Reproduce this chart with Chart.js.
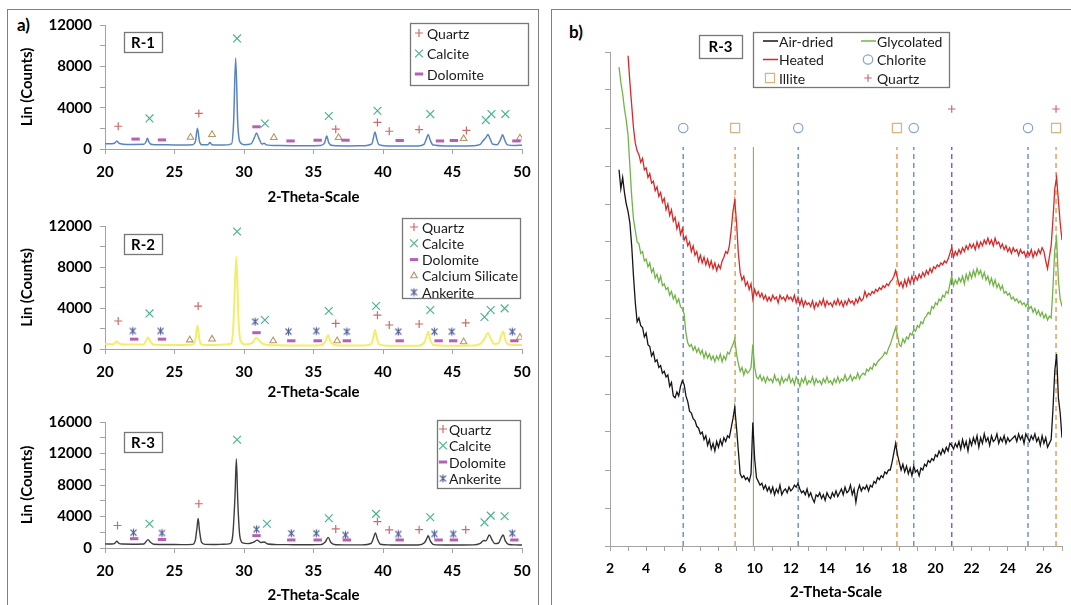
<!DOCTYPE html>
<html>
<head>
<meta charset="utf-8">
<script src="https://cdn.jsdelivr.net/npm/chart.js@4.4.1/dist/chart.umd.min.js"></script>
<style>
  html, body { margin: 0; padding: 0; background: #fff; }
  body { width: 1071px; height: 605px; position: relative; overflow: hidden; font-family: Lato, "DejaVu Sans", sans-serif; }
  .frame { position: absolute; border: 1.5px solid #808080; box-sizing: border-box; }
  .panel-tag { position: absolute; font-weight: bold; font-size: 17px; color: #000; }
  canvas { position: absolute; }
</style>
</head>
<body>
<div class="frame" style="left:7px;top:9px;width:532px;height:610px"></div>
<div class="frame" style="left:551px;top:9px;width:530px;height:610px"></div>
<div class="panel-tag" style="left:17px;top:14px">a)</div>
<div class="panel-tag" style="left:569px;top:21px">b)</div>
<canvas id="r1" width="545" height="208" style="left:0;top:0"></canvas>
<canvas id="r2" width="545" height="205" style="left:0;top:200px"></canvas>
<canvas id="r3" width="545" height="208" style="left:0;top:397px"></canvas>
<canvas id="clay" width="520" height="605" style="left:551px;top:0"></canvas>
<script>
/* ---------- a) bulk XRD patterns: [2-theta, counts] ---------- */
const r1Pattern = [
  [20.0, 520], [20.5, 500], [20.7, 560], [20.85, 780], [21.0, 560], [21.3, 470], [22.0, 440], [22.8, 450],
  [22.95, 700], [23.05, 1050], [23.15, 700], [23.4, 430], [24.5, 400], [25.5, 380], [26.3, 420], [26.5, 700],
  [26.65, 2000], [26.8, 700], [27.0, 400], [27.4, 420], [27.55, 620], [27.7, 420], [28.5, 380], [29.1, 500],
  [29.25, 2500], [29.4, 8800], [29.55, 2500], [29.7, 700], [30.0, 420], [30.5, 500], [30.75, 1100], [30.9, 1550],
  [31.05, 1100], [31.3, 480], [31.45, 560], [31.6, 400], [32.5, 330], [33.5, 320], [34.5, 320], [35.5, 340],
  [35.8, 600], [35.95, 1250], [36.1, 600], [36.4, 330], [37.5, 300], [38.5, 310], [39.2, 500], [39.3, 1000],
  [39.42, 1650], [39.55, 1000], [39.7, 420], [40.3, 300], [41.5, 290], [42.5, 300], [42.95, 450], [43.1, 900],
  [43.25, 1400], [43.4, 850], [43.6, 380], [44.5, 300], [45.5, 300], [46.5, 320], [47.0, 450], [47.2, 800],
  [47.4, 1100], [47.55, 1400], [47.7, 1000], [47.9, 450], [48.2, 420], [48.45, 900], [48.6, 1380], [48.75, 900],
  [48.95, 400], [49.5, 350], [50.0, 360]
];
const r2Pattern = [
  [20.0, 480], [20.5, 470], [20.7, 540], [20.85, 760], [21.0, 540], [21.3, 450], [22.0, 430], [22.8, 460],
  [22.95, 800], [23.1, 1150], [23.25, 750], [23.5, 430], [24.5, 400], [25.5, 390], [26.3, 430], [26.5, 900],
  [26.65, 2300], [26.8, 850], [27.0, 420], [28.0, 400], [29.0, 480], [29.2, 1500], [29.3, 4500], [29.45, 9000],
  [29.6, 3000], [29.75, 800], [30.1, 450], [30.6, 600], [30.9, 1100], [31.2, 650], [31.6, 420], [32.5, 360],
  [33.5, 350], [34.5, 340], [35.5, 360], [35.85, 700], [36.05, 1350], [36.25, 650], [36.6, 360], [37.5, 330],
  [38.5, 330], [39.15, 500], [39.3, 1100], [39.42, 1850], [39.55, 1100], [39.75, 430], [40.5, 320], [41.5, 310],
  [42.5, 320], [42.95, 600], [43.15, 1300], [43.25, 1700], [43.4, 900], [43.65, 380], [44.5, 320], [45.5, 320],
  [46.5, 330], [47.0, 500], [47.3, 1000], [47.55, 1550], [47.75, 1000], [48.0, 500], [48.3, 550], [48.5, 1300],
  [48.65, 1700], [48.8, 900], [49.05, 430], [49.5, 380], [50.0, 380]
];
const r3Pattern = [
  [20.0, 520], [20.5, 510], [20.7, 600], [20.85, 850], [21.0, 600], [21.3, 500], [22.0, 480], [22.8, 500],
  [22.95, 800], [23.1, 1060], [23.25, 760], [23.5, 480], [24.5, 450], [25.5, 430], [26.3, 460], [26.5, 1000],
  [26.62, 2600], [26.7, 3750], [26.8, 2200], [26.95, 700], [27.2, 460], [28.0, 440], [28.5, 480], [29.0, 560],
  [29.2, 1800], [29.35, 6500], [29.45, 11300], [29.55, 6000], [29.7, 1500], [29.9, 650], [30.3, 560], [30.7, 750],
  [30.95, 1000], [31.2, 700], [31.45, 760], [31.7, 500], [32.5, 430], [33.5, 420], [34.5, 410], [35.5, 430],
  [35.85, 750], [36.05, 1350], [36.25, 700], [36.6, 420], [37.5, 400], [38.5, 400], [39.15, 600], [39.3, 1200],
  [39.45, 1900], [39.6, 1150], [39.8, 480], [40.5, 390], [41.5, 380], [42.5, 390], [43.0, 700], [43.15, 1200],
  [43.25, 1550], [43.4, 900], [43.65, 430], [44.5, 390], [45.5, 380], [46.5, 400], [47.0, 600], [47.25, 950],
  [47.4, 900], [47.65, 1650], [47.85, 1000], [48.05, 550], [48.3, 600], [48.5, 1300], [48.65, 1650], [48.8, 900],
  [49.05, 450], [49.5, 400], [50.0, 380]
];

/* peak markers: [2-theta, counts] */
const r1Quartz = [[20.95, 2200], [26.75, 3440], [36.6, 1920], [39.6, 2570], [40.45, 1720], [42.6, 1880], [46.0, 1800]];
const r1Calcite = [[23.2, 2960], [29.5, 10700], [31.5, 2470], [36.1, 3190], [39.6, 3700], [43.4, 3380], [47.4, 2800], [47.8, 3380], [48.8, 3380]];
const r1Dolomite = [[22.2, 960], [24.1, 880], [30.9, 2150], [33.35, 780], [35.3, 850], [37.3, 850], [41.2, 820], [44.1, 780], [45.1, 820], [49.6, 780]];
const r1CaSilicate = [[26.15, 1130], [27.7, 1400], [32.15, 1100], [36.8, 1100], [45.8, 1000], [49.85, 1060]];

const r2Quartz = [[20.95, 2730], [26.7, 4190], [36.6, 2500], [39.6, 3300], [40.45, 2340], [42.6, 2440], [45.95, 2540]];
const r2Calcite = [[23.2, 3470], [29.5, 11460], [31.5, 2830], [36.1, 3710], [39.5, 4200], [43.4, 3800], [47.3, 3120], [47.75, 3800], [48.75, 3960]];
const r2Dolomite = [[22.1, 960], [24.1, 960], [30.9, 1590], [33.4, 800], [35.3, 800], [37.4, 800], [41.2, 800], [44.0, 800], [45.05, 800], [49.45, 800]];
const r2CaSilicate = [[26.1, 880], [27.7, 960], [32.1, 800], [36.7, 800], [45.8, 700], [49.85, 1140]];
const r2Ankerite = [[22.0, 1760], [24.0, 1760], [30.8, 2670], [33.2, 1690], [35.2, 1760], [37.4, 1690], [41.1, 1690], [43.7, 1690], [44.95, 1690], [49.3, 1690]];

const r3Quartz = [[20.9, 2860], [26.75, 5620], [36.6, 2420], [39.6, 3350], [40.45, 2290], [42.6, 2330], [45.95, 2330]];
const r3Calcite = [[23.2, 3080], [29.5, 13740], [31.65, 3080], [36.1, 3770], [39.5, 4330], [43.4, 3900], [47.3, 3260], [47.75, 4110], [48.75, 4030]];
const r3Dolomite = [[22.1, 1180], [24.1, 1080], [30.9, 1570], [33.4, 1020], [35.3, 1020], [37.4, 1020], [41.2, 1020], [44.0, 1020], [45.1, 1020], [49.45, 1020]];
const r3Ankerite = [[22.05, 1950], [24.1, 1900], [30.9, 2380], [33.4, 1870], [35.2, 1870], [37.3, 1660], [41.1, 1780], [43.7, 1780], [45.05, 1780], [49.3, 1870]];

/* ---------- b) clay fraction of R-3, intensity on a 0-13 grid, 2.5 to 27.0 deg in 0.1 deg steps ---------- */
const clayStartAngle = 2.5;
const clayAngleStep = 0.1;
const airDried = [
  9.9, 9.4, 9.7, 9.3, 9.0,
  8.8, 8.5, 7.9, 7.1, 6.4, 5.9, 6.0, 5.8, 5.75, 5.5,
  5.6, 5.3, 5.25, 5.0, 5.1, 4.85, 4.9, 4.7, 4.75, 4.55,
  4.6, 4.45, 4.5, 4.2, 4.3, 3.95, 3.9, 4.05, 3.95, 4.2,
  4.35, 4.25, 3.95, 3.8, 3.55, 3.5, 3.35, 3.3, 3.15, 3.1,
  2.95, 3.0, 2.8, 2.9, 2.65, 2.8, 2.55, 2.7, 2.5, 2.75,
  2.6, 2.8, 2.65, 2.85, 2.75, 2.9, 2.85, 3.1, 3.35, 3.65,
  3.1, 2.5, 1.9, 1.8, 1.85, 1.75, 1.8, 1.7, 1.9, 3.25,
  2.3, 1.8, 1.7, 1.6, 1.65, 1.5, 1.6, 1.45, 1.55, 1.4,
  1.55, 1.35, 1.5, 1.4, 1.6, 1.35, 1.45, 1.5, 1.4, 1.55,
  1.45, 1.5, 1.6, 1.55, 1.65, 1.5, 1.4, 1.45, 1.35, 1.5,
  1.3, 1.4, 1.25, 1.15, 1.35, 1.3, 1.4, 1.25, 1.35, 1.2,
  1.4, 1.3, 1.25, 1.4, 1.3, 1.45, 1.3, 1.4, 1.5, 1.35,
  1.55, 1.4, 1.45, 1.6, 1.35, 1.5, 1.15, 1.45, 1.6, 1.45,
  1.55, 1.5, 1.6, 1.45, 1.6, 1.55, 1.7, 1.65, 1.8, 1.75,
  1.85, 1.8, 1.95, 1.9, 2.0, 2.0, 2.2, 2.45, 2.7, 2.4,
  2.2, 2.0, 2.15, 1.95, 2.1, 1.9, 2.05, 1.85, 2.1, 1.95,
  2.0, 1.85, 2.05, 2.0, 2.15, 2.1, 2.25, 2.2, 2.3, 2.25,
  2.4, 2.35, 2.5, 2.4, 2.55, 2.45, 2.6, 2.5, 2.7, 2.65,
  2.55, 2.7, 2.6, 2.75, 2.55, 2.8, 2.6, 2.75, 2.5, 2.8,
  2.65, 2.85, 2.7, 2.9, 2.6, 2.85, 2.7, 2.95, 2.75, 2.85,
  2.65, 2.9, 2.75, 2.8, 2.95, 2.7, 2.85, 2.75, 2.9, 2.7,
  2.85, 2.75, 2.8, 2.85, 2.9, 2.75, 2.95, 2.8, 2.9, 2.7,
  2.95, 2.85, 2.75, 2.9, 2.8, 2.95, 2.75, 2.85, 2.65, 2.9,
  2.7, 2.85, 2.6, 2.7, 2.8, 3.6, 4.6, 5.05, 3.9, 3.5,
  2.85
];
const glycolated = [
  12.6, 12.2, 11.9, 11.5, 11.2,
  10.8, 10.0, 9.2, 8.6, 8.3, 8.0, 7.95, 7.7, 7.75, 7.5,
  7.55, 7.35, 7.45, 7.2, 7.3, 7.05, 7.15, 6.95, 7.1, 6.85,
  6.9, 6.75, 6.8, 6.6, 6.7, 6.5, 6.6, 6.4, 6.5, 6.3,
  6.25, 6.1, 5.6, 5.35, 5.25, 5.3, 5.15, 5.25, 5.1, 5.2,
  5.05, 5.15, 4.95, 5.1, 4.95, 5.05, 4.9, 5.0, 4.85, 5.0,
  4.9, 5.05, 4.85, 5.0, 4.9, 5.1, 5.05, 5.2, 5.3, 5.45,
  5.05, 4.8, 4.6, 4.7, 4.5, 4.65, 4.55, 4.6, 4.7, 5.3,
  4.7, 4.45, 4.4, 4.5, 4.35, 4.45, 4.3, 4.45, 4.35, 4.4,
  4.3, 4.5, 4.35, 4.4, 4.25, 4.45, 4.3, 4.4, 4.35, 4.5,
  4.3, 4.4, 4.25, 4.45, 4.35, 4.2, 4.4, 4.3, 4.45, 4.25,
  4.35, 4.3, 4.45, 4.25, 4.4, 4.3, 4.35, 4.25, 4.4, 4.3,
  4.45, 4.3, 4.35, 4.25, 4.4, 4.3, 4.45, 4.3, 4.4, 4.35,
  4.5, 4.35, 4.4, 4.5, 4.35, 4.45, 4.4, 4.55, 4.4, 4.5,
  4.55, 4.5, 4.65, 4.6, 4.7, 4.65, 4.8, 4.75, 4.85, 4.9,
  4.95, 5.0, 5.1, 5.05, 5.2, 5.3, 5.45, 5.6, 5.75, 5.55,
  5.3, 5.25, 5.45, 5.35, 5.5, 5.45, 5.6, 5.55, 5.7, 5.65,
  5.8, 5.75, 5.9, 5.85, 6.0, 6.05, 6.15, 6.1, 6.3, 6.25,
  6.4, 6.35, 6.5, 6.45, 6.6, 6.55, 6.7, 6.65, 6.9, 7.1,
  6.85, 7.0, 6.9, 7.05, 6.95, 7.1, 6.9, 7.15, 7.0, 7.2,
  7.05, 7.25, 7.1, 7.3, 7.15, 7.25, 7.05, 7.2, 7.0, 7.1,
  6.9, 7.05, 6.85, 7.0, 6.8, 6.9, 6.75, 6.85, 6.65, 6.7,
  6.6, 6.65, 6.5, 6.55, 6.45, 6.5, 6.4, 6.45, 6.35, 6.4,
  6.3, 6.4, 6.25, 6.3, 6.15, 6.25, 6.1, 6.2, 6.05, 6.15,
  6.0, 6.1, 5.95, 6.05, 6.0, 6.8, 7.8, 8.1, 7.0, 6.5,
  6.3
];
const heated = [
  null, null, null, null, null,
  12.9, 12.2, 11.6, 11.0, 10.6, 10.4, 10.3, 10.1, 10.2, 9.9,
  9.95, 9.7, 9.8, 9.55, 9.6, 9.35, 9.45, 9.2, 9.3, 9.05,
  9.15, 8.85, 9.0, 8.7, 8.85, 8.55, 8.65, 8.35, 8.5, 8.2,
  8.35, 8.05, 8.15, 7.9, 8.0, 7.75, 7.9, 7.65, 7.75, 7.5,
  7.65, 7.45, 7.6, 7.4, 7.55, 7.35, 7.5, 7.3, 7.45, 7.25,
  7.4, 7.3, 7.5, 7.6, 7.75, 7.7, 7.9, 8.3, 8.8, 9.1,
  8.5, 7.7, 7.2, 7.0, 7.1, 6.85, 6.95, 6.75, 6.9, 6.5,
  6.75, 6.6, 6.7, 6.55, 6.65, 6.5, 6.6, 6.45, 6.55, 6.45,
  6.6, 6.5, 6.55, 6.4, 6.6, 6.5, 6.55, 6.45, 6.6, 6.5,
  6.55, 6.45, 6.6, 6.4, 6.55, 6.35, 6.5, 6.3, 6.45, 6.35,
  6.4, 6.3, 6.45, 6.25, 6.4, 6.3, 6.45, 6.35, 6.5, 6.3,
  6.45, 6.35, 6.4, 6.3, 6.45, 6.35, 6.5, 6.35, 6.45, 6.3,
  6.45, 6.35, 6.5, 6.4, 6.45, 6.35, 6.5, 6.4, 6.55, 6.45,
  6.5, 6.7, 6.55, 6.65, 6.6, 6.7, 6.65, 6.75, 6.7, 6.8,
  6.75, 6.85, 6.8, 6.9, 6.85, 6.95, 7.0, 7.1, 7.25, 7.05,
  6.85, 6.95, 6.8, 7.0, 6.85, 7.05, 6.9, 7.1, 6.95, 7.1,
  7.0, 7.15, 7.05, 7.2, 7.1, 7.25, 7.15, 7.3, 7.2, 7.35,
  7.3, 7.4, 7.35, 7.45, 7.4, 7.5, 7.45, 7.55, 7.7, 7.85,
  7.6, 7.75, 7.65, 7.8, 7.7, 7.85, 7.75, 7.9, 7.8, 7.95,
  7.85, 7.95, 7.8, 8.0, 7.85, 8.0, 7.9, 8.05, 7.95, 8.1,
  7.95, 8.05, 7.9, 8.1, 7.95, 8.0, 7.85, 7.95, 7.8, 7.9,
  7.75, 7.85, 7.7, 7.85, 7.75, 7.8, 7.65, 7.8, 7.7, 7.75,
  7.6, 7.75, 7.65, 7.8, 7.6, 7.75, 7.65, 7.8, 7.7, 7.85,
  7.75, 7.5, 7.3, 7.6, 7.9, 8.6, 9.4, 9.7, 9.1, 8.5,
  8.05
];

/* reflection positions (2-theta) and marker heights on the 0-13 grid */
const chloriteAngles = [6.05, 12.41, 18.8, 25.12];
const illiteAngles = [8.92, 17.87, 26.67];
const quartzAngles = [20.9, 26.67];
const quartzGuides = [20.9];
const glycolShift = [9.93];
const markerLevel = 11;
const quartzLevel = 11.5;
const guideTop = 10.5;

/* ---------- styling ---------- */
Chart.defaults.font.family = 'Lato, "DejaVu Sans", sans-serif';
Chart.defaults.color = '#000';
const axisGrey = '#a3a3a3';

function asterisk(color) {
  const c = document.createElement('canvas');
  c.width = 11; c.height = 11;
  const g = c.getContext('2d');
  g.strokeStyle = color;
  g.lineWidth = 1.1;
  g.beginPath();
  g.moveTo(2.5, 2.5); g.lineTo(8.5, 8.5);
  g.moveTo(8.5, 2.5); g.lineTo(2.5, 8.5);
  g.moveTo(5.5, 1.5); g.lineTo(5.5, 9.5);
  g.stroke();
  return c;
}

const mineralStyle = {
  'Quartz':           { pointStyle: 'cross',    color: '#cd6a6a', radius: 4,   width: 1.2 },
  'Calcite':          { pointStyle: 'crossRot', color: '#4cb48f', radius: 5.5, width: 1.2 },
  'Dolomite':         { pointStyle: 'line',     color: '#b560b5', radius: 4.2, width: 3 },
  'Calcium Silicate': { pointStyle: 'triangle', color: '#b8966a', radius: 3.8, width: 1.1 },
  'Ankerite':         { pointStyle: asterisk('#52629a'), color: '#52629a', radius: 4, width: 1.1 }
};

const pts = pairs => pairs.map(([x, y]) => ({ x, y }));

function markerSet(label, pairs) {
  const s = mineralStyle[label];
  return {
    label, data: pts(pairs), showLine: false,
    pointStyle: s.pointStyle, pointRadius: s.radius, pointHoverRadius: s.radius,
    pointBorderWidth: s.width, pointBorderColor: s.color, pointBackgroundColor: 'rgba(0,0,0,0)'
  };
}

// sample tag box and the boxed legend, drawn on the canvas
const notesPlugin = {
  id: 'notes',
  afterDraw(chart, args, opts) {
    const ctx = chart.ctx;
    const t = opts.tag, L = opts.legend;
    ctx.save();
    ctx.strokeStyle = '#777';
    ctx.lineWidth = 1.3;
    ctx.strokeRect(t.x + 0.5, t.y + 0.5, t.w, t.h);
    ctx.fillStyle = '#000';
    ctx.font = 'bold 15px Lato';
    ctx.textAlign = 'center';
    ctx.textBaseline = 'middle';
    ctx.fillText(t.text, t.x + t.w / 2, t.y + t.h / 2 + 1);

    ctx.strokeStyle = '#777';
    ctx.lineWidth = 1.3;
    ctx.strokeRect(L.x + 0.5, L.y + 0.5, L.w, L.h);
    ctx.font = '14px Lato';
    ctx.textAlign = 'left';
    L.labels.forEach((name, i) => {
      const ds = chart.data.datasets.find(d => d.label === name);
      const col = i % L.cols, row = Math.floor(i / L.cols);
      const y = L.y + L.first + row * L.step;
      const sx = L.x + L.symX[col];
      if (ds.showLine) {
        ctx.strokeStyle = ds.borderColor;
        ctx.lineWidth = 1.5;
        ctx.beginPath();
        ctx.moveTo(sx - 7, y);
        ctx.lineTo(sx + 8, y);
        ctx.stroke();
      } else {
        ctx.strokeStyle = ds.pointBorderColor;
        ctx.fillStyle = 'rgba(0,0,0,0)';
        ctx.lineWidth = ds.pointBorderWidth;
        Chart.helpers.drawPoint(ctx, { pointStyle: ds.pointStyle, radius: ds.pointRadius, borderWidth: ds.pointBorderWidth, rotation: 0 }, sx, y);
      }
      ctx.fillStyle = '#1a1a1a';
      ctx.fillText(name, L.x + L.textX[col], y + 1);
    });
    ctx.restore();
  }
};

const boldTick = { size: 15, weight: 'bold' };

function xrdChart(id, o) {
  return new Chart(document.getElementById(id), {
    type: 'scatter',
    data: {
      datasets: [
        { label: 'pattern', data: pts(o.pattern), showLine: true, borderColor: o.color, borderWidth: o.width,
          pointRadius: 0, cubicInterpolationMode: 'monotone' },
        ...o.markers
      ]
    },
    options: {
      responsive: false, animation: false, events: [],
      layout: { padding: { left: 14, right: 23, top: o.top, bottom: 0 } },
      plugins: { legend: { display: false }, tooltip: { enabled: false }, notes: o.notes },
      scales: {
        x: {
          type: 'linear', min: 20, max: 50,
          border: { color: axisGrey },
          grid: { drawOnChartArea: false, color: axisGrey, tickLength: 5 },
          ticks: { stepSize: 5, padding: 9, font: boldTick, maxRotation: 0, autoSkip: false },
          title: { display: true, text: '2-Theta-Scale', font: boldTick, padding: { top: 0, bottom: o.titlePad } },
          afterFit: s => { s.height = o.xHeight; }
        },
        y: {
          min: 0, max: o.yMax,
          border: { color: axisGrey },
          grid: { drawOnChartArea: false, color: axisGrey, tickLength: 5 },
          ticks: { stepSize: 2000, padding: 8, font: boldTick, autoSkip: false,
                   callback: v => (v % 4000 === 0 ? String(v) : '') },
          title: { display: true, text: 'Lin (Counts)', font: boldTick, padding: { top: 4, bottom: 0 } },
          afterFit: s => { s.width = 91; }
        }
      }
    },
    plugins: [notesPlugin]
  });
}

xrdChart('r1', {
  pattern: r1Pattern, color: '#5a84bf', width: 1.5, yMax: 12000, top: 25, xHeight: 59, titlePad: 2,
  markers: [
    markerSet('Quartz', r1Quartz), markerSet('Calcite', r1Calcite),
    markerSet('Dolomite', r1Dolomite), markerSet('Calcium Silicate', r1CaSilicate)
  ],
  notes: {
    tag: { text: 'R-1', x: 124, y: 32, w: 38, h: 20 },
    legend: { x: 410, y: 23, w: 118, h: 62, first: 10, step: 20.5, cols: 1, symX: [9], textX: [17],
              labels: ['Quartz', 'Calcite', 'Dolomite'] }
  }
});

xrdChart('r2', {
  pattern: r2Pattern, color: '#f2ee6a', width: 2, yMax: 12000, top: 26, xHeight: 56, titlePad: 4,
  markers: [
    markerSet('Quartz', r2Quartz), markerSet('Calcite', r2Calcite), markerSet('Dolomite', r2Dolomite),
    markerSet('Calcium Silicate', r2CaSilicate), markerSet('Ankerite', r2Ankerite)
  ],
  notes: {
    tag: { text: 'R-2', x: 124, y: 34, w: 38, h: 20 },
    legend: { x: 402, y: 18, w: 118, h: 80, first: 9, step: 16.3, cols: 1, symX: [12], textX: [20],
              labels: ['Quartz', 'Calcite', 'Dolomite', 'Calcium Silicate', 'Ankerite'] }
  }
});

xrdChart('r3', {
  pattern: r3Pattern, color: '#3d3d3d', width: 1.4, yMax: 16000, top: 25, xHeight: 57, titlePad: 1,
  markers: [
    markerSet('Quartz', r3Quartz), markerSet('Calcite', r3Calcite),
    markerSet('Dolomite', r3Dolomite), markerSet('Ankerite', r3Ankerite)
  ],
  notes: {
    tag: { text: 'R-3', x: 124, y: 35, w: 38, h: 20 },
    legend: { x: 437, y: 23, w: 83, h: 68, first: 9, step: 16.5, cols: 1, symX: [6], textX: [12],
              labels: ['Quartz', 'Calcite', 'Dolomite', 'Ankerite'] }
  }
});

/* ---------- b) clay chart ---------- */
const clayPts = arr => arr.map((v, i) => ({ x: +(clayStartAngle + i * clayAngleStep).toFixed(2), y: v }));
const curve = (label, arr, color) => ({
  label, data: clayPts(arr), showLine: true, borderColor: color, borderWidth: 1.3, pointRadius: 0, spanGaps: false
});
const guide = (angle, color, dashed) => ({
  label: 'guide', data: [{ x: angle, y: 0 }, { x: angle, y: guideTop }], showLine: true,
  borderColor: color, borderWidth: dashed ? 1.5 : 1, borderDash: dashed ? [5, 4] : [], pointRadius: 0
});
const clayMarker = (label, angles, level, style, color, radius) => ({
  label, data: angles.map(a => ({ x: a, y: level })), showLine: false,
  pointStyle: style, pointRadius: radius, pointHoverRadius: radius, pointBorderWidth: 1.2,
  pointBorderColor: color, pointBackgroundColor: 'rgba(0,0,0,0)'
});

new Chart(document.getElementById('clay'), {
  type: 'scatter',
  data: {
    datasets: [
      curve('Air-dried', airDried, '#151515'),
      curve('Heated', heated, '#d62a2a'),
      curve('Glycolated', glycolated, '#72b447'),
      clayMarker('Chlorite', chloriteAngles, markerLevel, 'circle', '#86a2d4', 4.7),
      clayMarker('Illite', illiteAngles, markerLevel, 'rect', '#d9b27e', 6.4),
      clayMarker('Quartz', quartzAngles, quartzLevel, 'cross', '#cc6677', 3.8),
      ...chloriteAngles.map(a => guide(a, '#6f93cf', true)),
      ...illiteAngles.map(a => guide(a, '#e0a35a', true)),
      ...quartzGuides.map(a => guide(a, '#8f5cb5', true)),
      ...glycolShift.map(a => guide(a, '#70ad47', false))
    ]
  },
  options: {
    responsive: false, animation: false, events: [],
    layout: { padding: { left: 49, right: 6, top: 52, bottom: 0 } },
    plugins: {
      legend: { display: false }, tooltip: { enabled: false },
      notes: {
        tag: { text: 'R-3', x: 148, y: 35, w: 43, h: 23 },
        legend: { x: 202, y: 32, w: 196, h: 55, first: 9, step: 18.5, cols: 2, symX: [17, 115], textX: [26, 124],
                  labels: ['Air-dried', 'Glycolated', 'Heated', 'Chlorite', 'Illite', 'Quartz'] }
      }
    },
    scales: {
      x: {
        type: 'linear', min: 2, max: 27,
        border: { color: axisGrey },
        grid: { drawOnChartArea: false, color: axisGrey, tickLength: 5 },
        ticks: { stepSize: 1, padding: 9, font: { size: 14, weight: 'bold' }, maxRotation: 0, autoSkip: false,
                 callback: v => (v % 2 === 0 ? String(v) : '') },
        title: { display: true, text: '2-Theta-Scale', font: { size: 15, weight: 'bold' }, padding: { top: 0, bottom: 4 } },
        afterFit: s => { s.height = 59; }
      },
      y: {
        min: 0, max: 13,
        border: { color: axisGrey },
        grid: { drawOnChartArea: false, color: axisGrey, tickLength: 5 },
        ticks: { stepSize: 1, padding: 0, autoSkip: false, callback: () => '' },
        afterFit: s => { s.width = 10; }
      }
    }
  },
  plugins: [notesPlugin]
});
</script>
</body>
</html>
